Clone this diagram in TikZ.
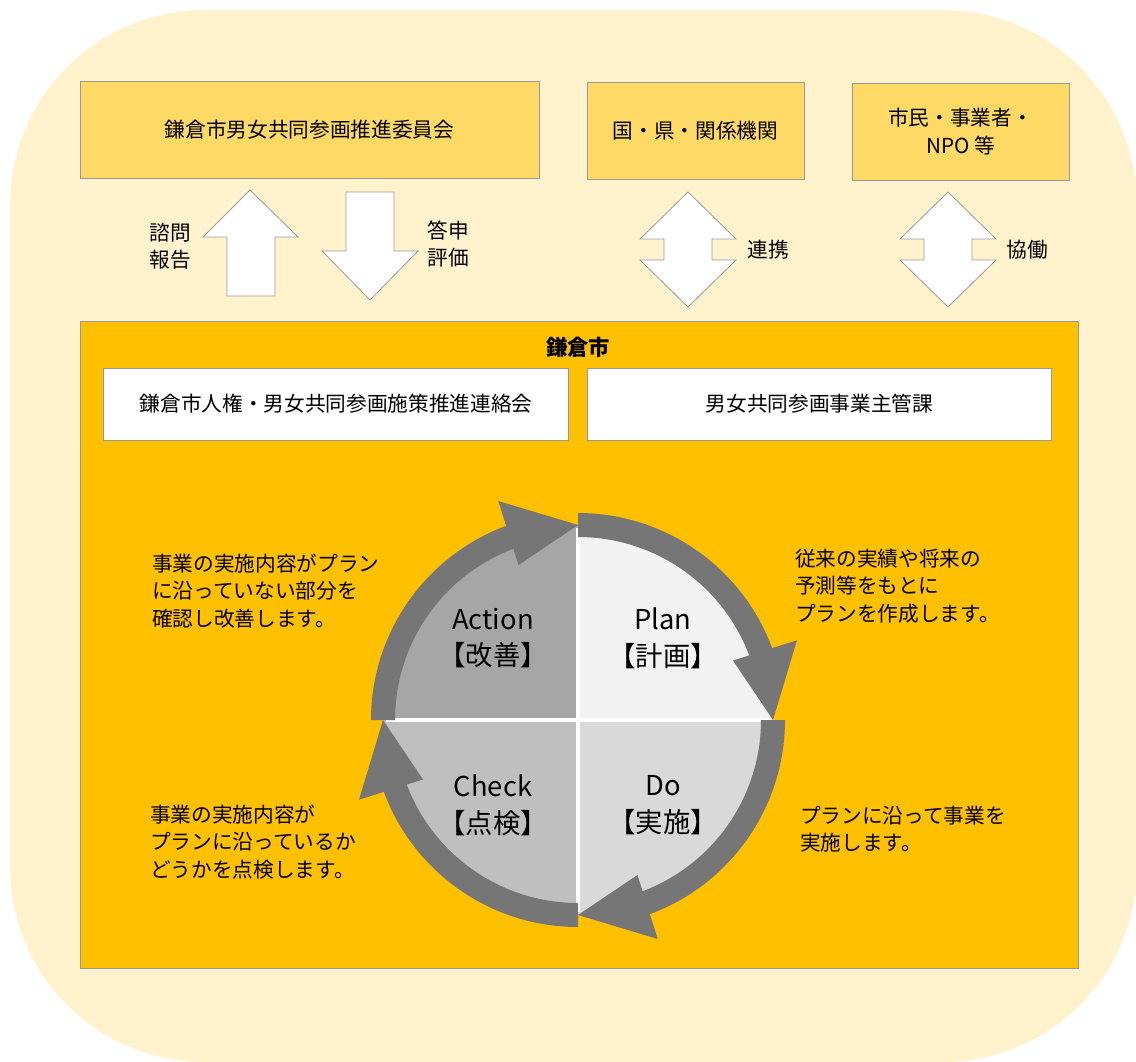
\documentclass[tikz,border=0pt]{standalone}
\usepackage{fontspec}
\setmainfont{Noto Sans CJK JP}
\usetikzlibrary{positioning}
\definecolor{cream}{HTML}{FFF2CC}
\definecolor{gold}{HTML}{FFD966}
\definecolor{amber}{HTML}{FFC000}
\definecolor{frame}{HTML}{999999}
\definecolor{ring}{HTML}{767676}
\definecolor{planfill}{HTML}{F2F2F2}
\definecolor{dofill}{HTML}{D9D9D9}
\definecolor{checkfill}{HTML}{BFBFBF}
\definecolor{actfill}{HTML}{A6A6A6}
\begin{document}
\begin{tikzpicture}[x=0.75pt,y=-0.75pt,
  body/.style={font=\fontsize{15.5}{20.6}\selectfont},
  box/.style={body,draw=frame,line width=0.75pt,inner sep=0pt,outer sep=0pt,align=center},
  topbox/.style={box,fill=gold,minimum height=72.75pt},
  whitebox/.style={box,fill=white,minimum height=54pt,minimum width=348.5pt},
  blockarrow/.style={draw=frame,fill=white,line width=0.6pt,line join=miter},
  sidetext/.style={body,anchor=west,align=left,inner sep=0pt},
  quadlabel/.style={font=\fontsize{20.5}{27.5}\selectfont,align=center,inner sep=0pt}]
  \useasboundingbox (0,0) rectangle (1136,1061);
  % background
  \fill[cream,rounded corners=146pt] (10,10) rectangle (1137,1062);

  % partners
  \node[topbox,minimum width=344.25pt] (committee) at (309.5,129.5) {鎌倉市男女共同参画推進委員会};
  \node[topbox,minimum width=162.75pt] (govt) at (695.5,131) {国・県・関係機関};
  \node[topbox,minimum width=162.75pt] (citizens) at (960.5,131.5) {市民・事業者・\\NPO 等};

  % block arrows
  \draw[blockarrow] (250,190) -- (298,237) -- (275,237) -- (275,296) -- (227,296) -- (227,237) -- (203,237) -- cycle;
  \draw[blockarrow] (346,192) -- (394,192) -- (394,251) -- (418,251) -- (370,300) -- (322,251) -- (346,251) -- cycle;
  \foreach \cx in {688,948} {
    \draw[blockarrow] (\cx,192) -- (\cx+48,239) -- (\cx+24,239) -- (\cx+24,260) -- (\cx+48,260) -- (\cx,307)
      -- (\cx-48,260) -- (\cx-24,260) -- (\cx-24,239) -- (\cx-48,239) -- cycle;
  }
  \node[body,align=center] (consult) at (170,246) {諮問\\報告};
  \node[body,align=center] (answer) at (448,244) {答申\\評価};
  \node[body] (coop) at (768,250) {連携};
  \node[body] (collab) at (1027,250) {協働};

  % city
  \node[draw=frame,fill=amber,line width=0.75pt,minimum width=748.5pt,minimum height=485.25pt,inner sep=0pt] (city) at (579,644.5) {};
  \node[font=\fontsize{16}{18}\selectfont\bfseries] (citytitle) at (578,347) {鎌倉市};
  \node[whitebox] (liaison) at (336,404) {鎌倉市人権・男女共同参画施策推進連絡会};
  \node[whitebox] (section) at (819.5,404) {男女共同参画事業主管課};

  % PDCA cycle
  \begin{scope}[shift={(578,720)},yscale=-1]
    \fill[planfill] (0,0) -- (0:195) arc[start angle=0,end angle=90,radius=195] -- cycle;
    \fill[actfill] (0,0) -- (90:195) arc[start angle=90,end angle=180,radius=195] -- cycle;
    \fill[checkfill] (0,0) -- (180:195) arc[start angle=180,end angle=270,radius=195] -- cycle;
    \fill[dofill] (0,0) -- (270:195) arc[start angle=270,end angle=360,radius=195] -- cycle;
    \draw[white,line width=2.5pt] (-192,0) -- (192,0) (0,-192) -- (0,192);
    \foreach \s in {90,0,-90,180} {
      \pgfmathsetmacro{\e}{\s-70}
      \pgfmathsetmacro{\t}{\s-90}
      \fill[ring] (\s:207) arc[start angle=\s,end angle=\e,radius=207] -- (\e:183)
        arc[start angle=\e,end angle=\s,radius=183] -- cycle;
      \fill[ring] (\e+1:166) -- (\e:233) -- (\t:195) -- cycle;
    }
  \end{scope}
  \node[quadlabel] (plan) at (663,638) {Plan\\【計画】};
  \node[quadlabel] (act) at (493,638) {Action\\【改善】};
  \node[quadlabel] (check) at (493,805) {Check\\【点検】};
  \node[quadlabel] (do) at (663,805) {Do\\【実施】};

  % notes
  \node[sidetext] (actnote) at (152,591) {事業の実施内容がプラン\\に沿っていない部分を\\確認し改善します。};
  \node[sidetext] (plannote) at (795,586) {従来の実績や将来の\\予測等をもとに\\プランを作成します。};
  \node[sidetext] (checknote) at (150,842) {事業の実施内容が\\プランに沿っているか\\どうかを点検します。};
  \node[sidetext] (donote) at (800,829) {プランに沿って事業を\\実施します。};
\end{tikzpicture}
\end{document}
